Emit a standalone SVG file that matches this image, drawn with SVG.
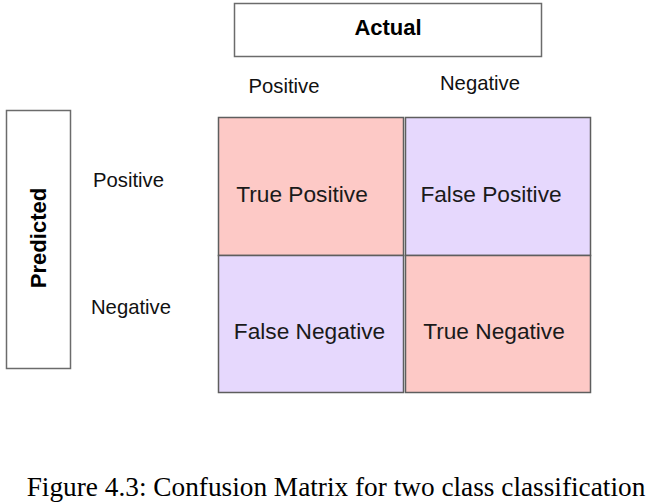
<svg xmlns="http://www.w3.org/2000/svg" width="654" height="504" viewBox="0 0 654 504">
<style>
.box{fill:#fff;stroke:#6b6b6b;stroke-width:1.5}
.pos{fill:#fdc9c6;stroke:#5e5e5e;stroke-width:1.5}
.neg{fill:#e6d8fd;stroke:#5e5e5e;stroke-width:1.5}
.lbl{font-family:"Liberation Sans",Arial,sans-serif;font-size:20.3px;fill:#111;text-anchor:middle}
.cell{font-family:"Liberation Sans",Arial,sans-serif;font-size:22.7px;fill:#1a1a1a;text-anchor:middle}
.bold{font-family:"Liberation Sans",Arial,sans-serif;font-size:22px;font-weight:bold;fill:#000;text-anchor:middle}
.cap{font-family:"Liberation Serif","Times New Roman",serif;font-size:27.3px;fill:#000;text-anchor:middle}
</style>
<rect width="654" height="504" fill="#fff"/>
<g id="actual">
<rect class="box" x="234.5" y="3.5" width="307" height="53"/>
<text class="bold" x="388" y="35">Actual</text>
</g>
<g id="predicted">
<rect class="box" x="6.5" y="110.5" width="64" height="258"/>
<text class="bold" transform="translate(46,238) rotate(-90)" x="0" y="0">Predicted</text>
</g>
<g id="col-labels">
<text class="lbl" x="284" y="93">Positive</text>
<text class="lbl" x="480" y="90">Negative</text>
</g>
<g id="row-labels">
<text class="lbl" x="128.5" y="187">Positive</text>
<text class="lbl" x="131" y="314">Negative</text>
</g>
<g id="tp">
<rect class="pos" x="218.5" y="117.5" width="185" height="138"/>
<text class="cell" x="302" y="202">True Positive</text>
</g>
<g id="fp">
<rect class="neg" x="405.5" y="117.5" width="185" height="138"/>
<text class="cell" x="491" y="202">False Positive</text>
</g>
<g id="fn">
<rect class="neg" x="218.5" y="255.5" width="185" height="137"/>
<text class="cell" x="309.5" y="339">False Negative</text>
</g>
<g id="tn">
<rect class="pos" x="405.5" y="255.5" width="185" height="137"/>
<text class="cell" x="494" y="339">True Negative</text>
</g>
<g id="connectors"></g>
<text class="cap" x="336" y="496">Figure 4.3: Confusion Matrix for two class classification</text>
</svg>
